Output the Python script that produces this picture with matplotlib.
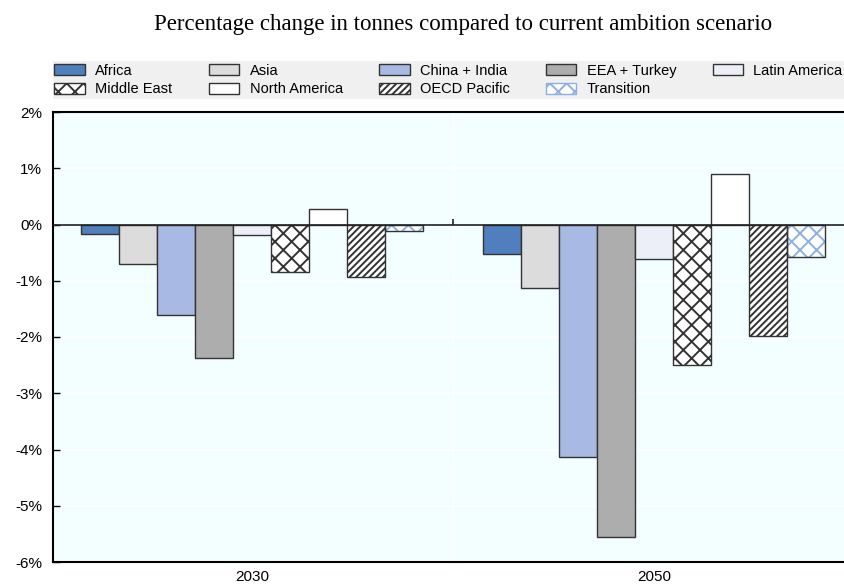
import numpy as np
import matplotlib.pyplot as plt
from matplotlib.patches import Patch, Rectangle

years = ["2030", "2050"]
regions = ["Africa", "Asia", "China + India", "EEA + Turkey", "Latin America",
           "Middle East", "North America", "OECD Pacific", "Transition"]
values = {
    "Africa":        [-0.17, -0.52],
    "Asia":          [-0.70, -1.12],
    "China + India": [-1.61, -4.13],
    "EEA + Turkey":  [-2.38, -5.56],
    "Latin America": [-0.19, -0.61],
    "Middle East":   [-0.84, -2.49],
    "North America": [0.28, 0.90],
    "OECD Pacific":  [-0.94, -1.98],
    "Transition":    [-0.12, -0.57],
}
yticks = [2, 1, 0, -1, -2, -3, -4, -5, -6]

# fill colour, hatch, hatch colour
styles = {
    "Africa":        ("#4F7FBC", None, None),
    "Asia":          ("#DCDCDC", None, None),
    "China + India": ("#A8B9E3", None, None),
    "EEA + Turkey":  ("#ADADAD", None, None),
    "Latin America": ("#EDEFF8", None, None),
    "Middle East":   ("#FFFFFF", "xx", "#333333"),
    "North America": ("#FFFFFF", None, None),
    "OECD Pacific":  ("#FFFFFF", "/////", "#333333"),
    "Transition":    ("#FFFFFF", "xx", "#8CB0E0"),
}

plt.rcParams["hatch.linewidth"] = 1.4
plt.rcParams["font.family"] = ["Liberation Sans", "DejaVu Sans"]

fig = plt.figure(figsize=(8.44, 5.85), dpi=100)
ax = fig.add_axes([53 / 844, 23 / 585, 791 / 844, 450 / 585])
ax.set_facecolor("#F2FEFF")

x = np.arange(len(years))
bw = 0.0945
offsets = (np.arange(len(regions)) - (len(regions) - 1) / 2) * bw
handles = {}
for i, r in enumerate(regions):
    fc, hatch, hc = styles[r]
    if hatch:
        ax.bar(x + offsets[i], values[r], bw, color=fc, hatch=hatch, edgecolor=hc, lw=0, zorder=3)
        ax.bar(x + offsets[i], values[r], bw, fill=False, edgecolor="#333333", lw=1, zorder=4)
    else:
        ax.bar(x + offsets[i], values[r], bw, color=fc, edgecolor="#333333", lw=1, zorder=3)
    handles[r] = Patch(facecolor=fc, hatch=hatch, edgecolor=hc if hatch else "#333333", lw=1)

ax.set_ylim(-6, 2)
ax.set_xlim(-0.495, 1.473)
ax.set_yticks(yticks)
ax.set_yticklabels([f"{t}%" for t in yticks], fontsize=11)
ax.set_xticks(x)
ax.set_xticklabels(years, fontsize=11)
ax.tick_params(axis="x", length=0, pad=6)
ax.tick_params(axis="y", direction="in", length=5, width=1, pad=8)
ax.yaxis.grid(True, color="white", lw=1.2, zorder=0)
ax.axvline(0.5, color="white", lw=1.2, zorder=0)
ax.axhline(0, color="#222222", lw=1.2, zorder=5)
ax.vlines(0.5, 0, 0.09, color="#222222", lw=1.2, zorder=5)
for s in ["left", "bottom", "top"]:
    ax.spines[s].set_linewidth(1.5)
ax.spines["right"].set_visible(False)

# legend: row-wise order in 5 columns x 2 rows
order = ["Africa", "Middle East", "Asia", "North America", "China + India",
         "OECD Pacific", "EEA + Turkey", "Transition", "Latin America"]
fig.patches.append(Rectangle((53 / 844, 486 / 585), 791 / 844, 38 / 585,
                             transform=fig.transFigure, facecolor="#F0F0F0",
                             edgecolor="none", zorder=0))
leg = fig.legend([handles[k] for k in order], order, ncol=5, loc="center left",
                 bbox_to_anchor=(53 / 844, 486 / 585, 791 / 844, 38 / 585),
                 mode="expand", frameon=False, fontsize=10.5, handlelength=2.1,
                 handleheight=0.8, handletextpad=0.7, labelspacing=0.3,
                 borderaxespad=0, borderpad=0.1, columnspacing=1.0)

fig.text(463 / 844, 0.958, "Percentage change in tonnes compared to current ambition scenario",
         ha="center", va="center", fontsize=16.5, family="Liberation Serif")

fig.savefig("out.png", dpi=100)
